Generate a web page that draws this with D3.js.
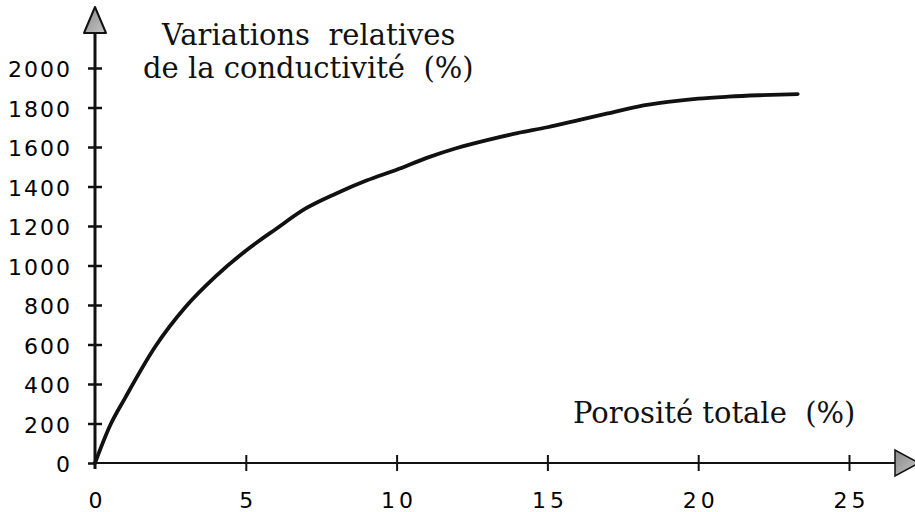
<!DOCTYPE html>
<html>
<head>
<meta charset="utf-8">
<script src="https://cdn.jsdelivr.net/npm/d3@7"></script>
<style>
  html, body { margin: 0; padding: 0; background: #fff; }
  svg { display: block; }
  .serif { font-family: "DejaVu Serif", serif; font-size: 29px; fill: #111; white-space: pre; }
</style>
</head>
<body>
<svg id="chart" width="915" height="512"></svg>
<script>
// Porosité totale (%) vs variations relatives de la conductivité (%)
const porosity = [0, 0.5, 1, 2, 3, 4, 5, 6, 7, 8, 9, 10, 11, 12, 13, 14, 15, 16, 17, 18, 19, 20, 21, 22, 23.3];
const conductivity = [0, 190, 330, 590, 790, 945, 1075, 1185, 1290, 1365, 1430, 1485, 1545, 1595, 1635, 1670, 1700, 1735, 1770, 1805, 1828, 1845, 1855, 1862, 1868];
const xTicks = [0, 5, 10, 15, 20, 25];
const yTicks = [0, 200, 400, 600, 800, 1000, 1200, 1400, 1600, 1800, 2000];
const yTitle = ["Variations  relatives", "de la conductivité  (%)"];
const xTitle = "Porosité totale  (%)";

const svg = d3.select("#chart");

const x = d3.scaleLinear().domain([0, 25]).range([95, 849]);
const y = d3.scaleLinear().domain([0, 2000]).range([463, 68]);

svg.append("defs").append("linearGradient")
  .attr("id", "arrowFill").attr("x1", 0).attr("y1", 0).attr("x2", 1).attr("y2", 1)
  .selectAll("stop").data([["0%", "#8a8a8a"], ["100%", "#c4c4c4"]]).join("stop")
  .attr("offset", d => d[0]).attr("stop-color", d => d[1]);

const tickFont = g => g
  .attr("font-family", "'DejaVu Sans', sans-serif")
  .attr("font-size", 22);

// x axis
const xAxis = svg.append("g")
  .attr("transform", `translate(0,${y(0)})`)
  .call(d3.axisBottom(x).tickValues(xTicks).tickFormat(d3.format("d"))
    .tickSize(8).tickSizeOuter(0).tickPadding(21))
  .call(tickFont);
xAxis.select(".domain").remove();
xAxis.append("line")
  .attr("x1", x(0) - 2).attr("x2", 897)
  .attr("stroke", "#111").attr("stroke-width", 2);
xAxis.selectAll(".tick line")
  .attr("y1", -8).attr("y2", 8).attr("stroke", "#111").attr("stroke-width", 2);
xAxis.selectAll(".tick")
  .filter(d => d === 0).select("line").remove();
xAxis.selectAll(".tick text")
  .attr("fill", "#000")
  .style("letter-spacing", "4px")
  .attr("dx", "2px");

// y axis
const yAxis = svg.append("g")
  .attr("transform", `translate(${x(0)},0)`)
  .call(d3.axisLeft(y).tickValues(yTicks).tickFormat(d3.format("d"))
    .tickSize(7).tickSizeOuter(0).tickPadding(18))
  .call(tickFont);
yAxis.select(".domain").remove();
yAxis.append("line")
  .attr("y1", y(0) + 6).attr("y2", 30)
  .attr("stroke", "#111").attr("stroke-width", 3);
yAxis.selectAll(".tick line")
  .attr("x1", -7).attr("x2", 7).attr("stroke", "#111").attr("stroke-width", 2.5);
yAxis.selectAll(".tick")
  .filter(d => d === 0).select("line").attr("x2", 0);
yAxis.selectAll(".tick text")
  .attr("fill", "#000")
  .style("letter-spacing", "2px")
  .attr("dx", "2px")
  .attr("dy", "0.4em");

// arrowheads
svg.append("path")
  .attr("d", d3.line()([[x(0), 7], [x(0) - 11, 33], [x(0) + 11, 33]]) + "Z")
  .attr("fill", "url(#arrowFill)").attr("stroke", "#111").attr("stroke-width", 2).attr("stroke-linejoin", "round");
svg.append("path")
  .attr("d", d3.line()([[919, y(0)], [895, y(0) - 13], [895, y(0) + 13]]) + "Z")
  .attr("fill", "url(#arrowFill)").attr("stroke", "#111").attr("stroke-width", 1.5);

// curve
svg.append("path")
  .datum(porosity.map((p, i) => [p, conductivity[i]]))
  .attr("fill", "none")
  .attr("stroke", "#111")
  .attr("stroke-width", 3.8)
  .attr("stroke-linecap", "round")
  .attr("d", d3.line().x(d => x(d[0])).y(d => y(d[1])).curve(d3.curveMonotoneX));

// titles
svg.append("text").attr("class", "serif").attr("x", 162).attr("y", 45).text(yTitle[0]);
svg.append("text").attr("class", "serif").attr("x", 143).attr("y", 78).text(yTitle[1]);
svg.append("text").attr("class", "serif").attr("x", 573).attr("y", 423).text(xTitle);
</script>
</body>
</html>
